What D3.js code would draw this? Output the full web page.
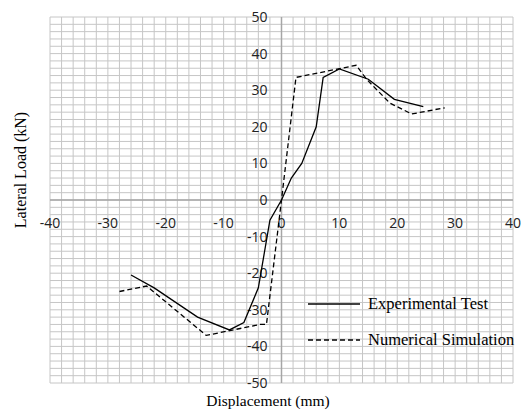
<!DOCTYPE html>
<html>
<head>
<meta charset="utf-8">
<script src="https://cdn.jsdelivr.net/npm/d3@7"></script>
<style>
  body { margin: 0; background: #fff; }
  svg { display: block; }
</style>
</head>
<body>
<svg id="chart"></svg>
<script>
// Data: [displacement (mm), lateral load (kN)]
var experimental = [
  [-26, -20.5], [-22, -24], [-14.5, -32], [-9, -35.5], [-6.5, -33.5],
  [-4, -24], [-2, -5.5], [0, 0], [1.7, 6], [3.5, 10], [6, 20],
  [7.2, 33.5], [10, 35.8], [15, 33], [19.5, 27.5], [24.5, 25.5]
];
var numerical = [
  [-28, -25], [-23.3, -23.5], [-13, -37], [-3.7, -34], [-2.6, -34],
  [0, 0], [2.5, 33.5], [12.9, 36.8], [14.7, 33], [18.7, 26.5],
  [22.5, 23.5], [28.2, 25.2]
];
var xTicks = [-40, -30, -20, -10, 0, 10, 20, 30, 40];
var yTicks = [-50, -40, -30, -20, -10, 0, 10, 20, 30, 40, 50];
var seriesNames = ["Experimental Test", "Numerical Simulation"];

var W = 525, H = 412;
var margin = { top: 17, right: 12, bottom: 29, left: 50 };
var serif = "'Liberation Serif', 'Times New Roman', serif";

var svg = d3.select("#chart")
  .attr("width", W)
  .attr("height", H);

var x = d3.scaleLinear().domain([-40, 40]).range([margin.left, W - margin.right]);
var y = d3.scaleLinear().domain([-50, 50]).range([H - margin.bottom, margin.top]);

// grid, every 2 units
var g = svg.append("g");
g.selectAll(".vg")
  .data(d3.range(-40, 41, 2))
  .enter().append("line")
  .attr("x1", d => x(d)).attr("x2", d => x(d))
  .attr("y1", y(50)).attr("y2", y(-50))
  .attr("stroke", "#c6c6c6").attr("stroke-width", 1);
g.selectAll(".hg")
  .data(d3.range(-50, 51, 2))
  .enter().append("line")
  .attr("y1", d => y(d)).attr("y2", d => y(d))
  .attr("x1", x(-40)).attr("x2", x(40))
  .attr("stroke", "#c6c6c6").attr("stroke-width", 1);

// axes crossing at origin
svg.append("line")
  .attr("x1", x(-40)).attr("x2", x(40))
  .attr("y1", y(0)).attr("y2", y(0))
  .attr("stroke", "#a6a6a6").attr("stroke-width", 1.5);
svg.append("line")
  .attr("x1", x(0)).attr("x2", x(0))
  .attr("y1", y(50)).attr("y2", y(-50))
  .attr("stroke", "#a6a6a6").attr("stroke-width", 1.5);

// tick labels
svg.selectAll(".xt")
  .data(xTicks)
  .enter().append("text")
  .attr("x", d => x(d))
  .attr("y", y(0) + 28)
  .attr("text-anchor", "middle")
  .style("font-family", "'Open Sans', sans-serif")
  .style("font-size", "14px")
  .style("fill", "#222")
  .text(d => d);

svg.selectAll(".yt")
  .data(yTicks)
  .enter().append("text")
  .attr("x", x(0) - 14)
  .attr("y", d => y(d))
  .attr("dy", "0.36em")
  .attr("text-anchor", "end")
  .style("font-family", "'Open Sans', sans-serif")
  .style("font-size", "14px")
  .style("fill", "#222")
  .text(d => d);

// series
var line = d3.line().x(d => x(d[0])).y(d => y(d[1]));

svg.append("path")
  .datum(experimental)
  .attr("d", line)
  .attr("fill", "none")
  .attr("stroke", "#000")
  .attr("stroke-width", 1.3);

svg.append("path")
  .datum(numerical)
  .attr("d", line)
  .attr("fill", "none")
  .attr("stroke", "#000")
  .attr("stroke-width", 1.3)
  .attr("stroke-dasharray", "5,3");

// legend
var lg = svg.append("g");
lg.selectAll("line")
  .data(seriesNames)
  .enter().append("line")
  .attr("x1", 308).attr("x2", 360)
  .attr("y1", (d, i) => 304 + i * 36)
  .attr("y2", (d, i) => 304 + i * 36)
  .attr("stroke", "#000")
  .attr("stroke-width", 1.3)
  .attr("stroke-dasharray", (d, i) => i ? "5,3" : null);
lg.selectAll("text")
  .data(seriesNames)
  .enter().append("text")
  .attr("x", 368)
  .attr("y", (d, i) => 304 + i * 36)
  .attr("dy", "0.32em")
  .style("font-family", serif)
  .style("font-size", "16.5px")
  .text(d => d);

// axis titles
svg.append("text")
  .attr("x", 268)
  .attr("y", 406)
  .attr("text-anchor", "middle")
  .style("font-family", serif)
  .style("font-size", "15.5px")
  .text("Displacement (mm)");

svg.append("text")
  .attr("transform", "translate(26,170) rotate(-90)")
  .attr("text-anchor", "middle")
  .style("font-family", serif)
  .style("font-size", "16px")
  .text("Lateral Load (kN)");
</script>
</body>
</html>
